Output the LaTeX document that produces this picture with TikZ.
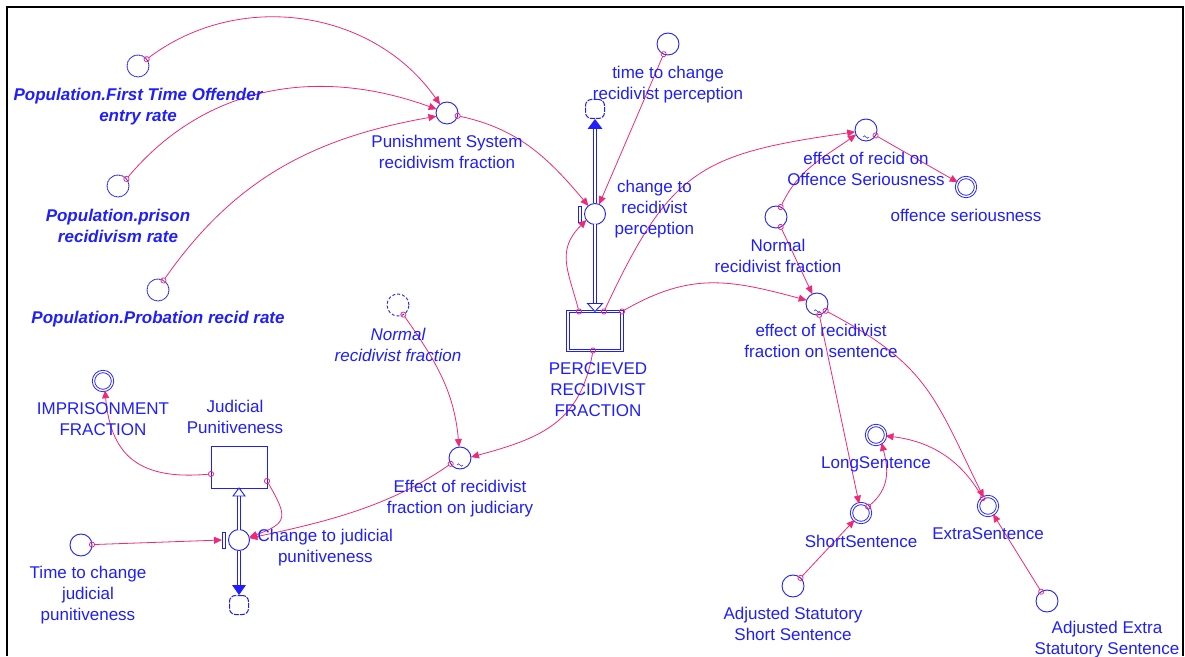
\documentclass[tikz,border=0pt]{standalone}
\usepackage{fontspec}
\setmainfont{Liberation Sans}
\usetikzlibrary{positioning,arrows.meta}
\definecolor{vblue}{RGB}{30,30,255}
\definecolor{vpink}{RGB}{240,40,120}
\newcommand{\lookupmark}[1]{\draw[vblue,line width=.5pt] ([shift={(-3pt,4pt)}]#1.south) sin ++(1.5,1.2) cos ++(1.5,-1.2) sin ++(1.5,-1.2) cos ++(1.5,1.2);}

\begin{document}
\begin{tikzpicture}[x=1pt,y=1pt,
    aux/.style={circle,draw=vblue,line width=.9pt,minimum size=22pt,inner sep=0pt,outer sep=0pt},
    shortcut/.style={aux,dash pattern=on 1.2pt off .5pt},
    ghost/.style={aux,dash pattern=on 3pt off 2pt},
    dbl/.style={aux,double,double distance=1.4pt,minimum size=19pt},
    valve/.style={aux,minimum size=21pt,fill=white},
    cloudnode/.style={draw=vblue,line width=1pt,rounded corners=6pt,minimum size=19pt,inner sep=0pt,dash pattern=on 5pt off 1.2pt},
    stock/.style={draw=vblue,line width=.9pt,minimum width=56pt,minimum height=42pt,inner sep=0pt,outer sep=0pt},
    pipe/.style={draw=vblue,line width=1pt,double,double distance=2.4pt},
    link/.style={draw=vpink,line width=.8pt,{Circle[open,length=6pt]}-{Triangle[length=8pt,width=7pt]},shorten <=-3pt},
    lbl/.style={text=vblue,align=center,inner sep=0pt,font=\fontsize{17}{21}\selectfont},
    blbl/.style={lbl,font=\fontsize{17}{21}\selectfont\bfseries\itshape},
    ilbl/.style={lbl,font=\fontsize{17}{21}\selectfont\itshape}]

    \useasboundingbox (0,0) rectangle (1185,656);
    \draw[line width=2.4pt] (7,0) -- (7,649) -- (1183,649) -- (1183,0);

    % shortcuts to the population model
    \node[shortcut] (popfirst) at (138,590) {};
    \node[shortcut] (popprison) at (118,470) {};
    \node[shortcut] (popprob) at (158,366) {};

    \node[aux] (punish) at (447,543) {};
    \node[aux] (timeR) at (668,612) {};
    \node[cloudnode] (cloudR) at (595,547) {};
    \node[valve] (valveR) at (595,442) {};
    \node[stock,double,double distance=1.4pt,minimum width=54pt,minimum height=39pt] (stockR) at (595,325) {};

    \node[aux] (effOff) at (866,526) {};
    \node[dbl] (offSer) at (966,469) {};
    \node[aux] (normR) at (776,439) {};
    \node[aux] (effSent) at (817,352) {};
    \node[dbl] (longS) at (876,221) {};
    \node[dbl] (shortS) at (861,143) {};
    \node[dbl] (extraS) at (988,150) {};
    \node[aux] (adjShort) at (793,70) {};
    \node[aux] (adjExtra) at (1047,55) {};

    \node[ghost] (normL) at (398,351) {};
    \node[aux] (effJud) at (460,198) {};
    \node[dbl] (imprison) at (103,275) {};
    \node[stock] (stockJ) at (239,189) {};
    \node[valve] (valveJ) at (239,116) {};
    \node[cloudnode] (cloudJ) at (239,51) {};
    \node[aux] (timeJ) at (81,111) {};

    \lookupmark{effOff}
    \lookupmark{effSent}
    \lookupmark{effJud}

    % flows
    \draw[pipe] (stockR.north) -- (valveR.south);
    \draw[pipe,shorten >=9pt] (valveR.north) -- (cloudR.south);
    \draw[vblue,line width=.9pt,fill=white] (stockR.north) -- ++(-7.5,8) -- ++(15,0) -- cycle;
    \fill[vblue] (cloudR.south) -- ++(-7.5,-10) -- ++(15,0) -- cycle;
    \draw[vblue,line width=.9pt,fill=white] ([shift={(-6.5pt,-8pt)}]valveR.west) rectangle ([shift={(-3pt,8pt)}]valveR.west);

    \draw[pipe] (valveJ.north) -- (stockJ.south);
    \draw[pipe,shorten >=9pt] (valveJ.south) -- (cloudJ.north);
    \draw[vblue,line width=.9pt,fill=white] (stockJ.south) -- ++(-6,-8) -- ++(12,0) -- cycle;
    \fill[vblue] (cloudJ.north) -- ++(-7,10) -- ++(14,0) -- cycle;
    \draw[vblue,line width=.9pt,fill=white] ([shift={(-6.5pt,-8pt)}]valveJ.west) rectangle ([shift={(-3pt,8pt)}]valveJ.west);

    % links
    \draw[link] (popfirst.38) to[out=37,in=125] (punish.129);
    \draw[link] (popprison.40) to[out=50,in=160] (punish.160);
    \draw[link] (popprob.60) to[out=55,in=190] (punish.197);
    \draw[link] (punish.-15) to[out=-12,in=130] (valveR.129);
    \draw[link] (timeR) -- (valveR);
    \draw[link] ([xshift=11pt]stockR.north west) to[out=105,in=225,looseness=1.2] (valveR.215);
    \draw[link] ([xshift=36pt]stockR.north west) to[out=65,in=188,looseness=1.3] (effOff.190);
    \draw[link] (stockR.north east) to[out=30,in=165,looseness=1.1] (effSent.160);
    \draw[link] ([xshift=-2pt]stockR.south) to[out=260,in=15,looseness=1.15] (effJud.5);
    \draw[link] (effOff) -- (offSer);
    \draw[link] (normR.65) to[out=65,in=215] (effOff.205);
    \draw[link] (normR) -- (effSent);
    \draw[link] (effSent) -- (shortS);
    \draw[link] (effSent.-38) to[out=-28,in=116,looseness=1.2] (extraS.117);
    \draw[link] (shortS.42) to[out=40,in=285,looseness=1.1] (longS.-55);
    \draw[link] (extraS.124) to[out=120,in=-7] (longS.-5);
    \draw[link] (adjShort) -- (shortS);
    \draw[link] (adjExtra) -- (extraS);
    \draw[link] (normL.-61) to[out=-55,in=95] (effJud.95);
    \draw[link] (effJud.212) to[out=215,in=12,looseness=.9] (valveJ.10);
    \draw[link] ([yshift=-7pt]stockJ.west) to[out=185,in=275,looseness=1.3] (imprison.-78);
    \draw[link] ([yshift=-14pt]stockJ.east) to[out=-60,in=20,looseness=1.8] (valveJ.15);
    \draw[link] (timeJ) -- ([xshift=-6.5pt]valveJ.west);

    % labels
    \node[blbl,below=22pt of popfirst.center] (popfirstL) {Population.First Time Offender\\entry rate};
    \node[blbl,below=23pt of popprison.center] (popprisonL) {Population.prison\\recidivism rate};
    \node[blbl,below=21pt of popprob.center] (popprobL) {Population.Probation recid rate};
    \node[lbl,below=22pt of punish.center] (punishL) {Punishment System\\recidivism fraction};
    \node[lbl,below=22pt of timeR.center] (timeRL) {time to change\\recidivist perception};
    \node[lbl,right=9pt of valveR,yshift=5pt] (valveRL) {change to\\recidivist\\perception};
    \node[lbl,below=12pt of stockR.south,xshift=3pt] (stockRL) {PERCIEVED\\RECIDIVIST\\FRACTION};
    \node[lbl,below=22pt of effOff.center] (effOffL) {effect of recid on\\Offence Seriousness};
    \node[lbl,below=22pt of offSer.center] (offSerL) {offence seriousness};
    \node[lbl,below=22pt of normR.center,xshift=2pt] (normRL) {Normal\\recidivist fraction};
    \node[lbl,below=20pt of effSent.center,xshift=4pt] (effSentL) {effect of recidivist\\fraction on sentence};
    \node[lbl,below=21pt of longS.center] (longSL) {LongSentence};
    \node[lbl,below=22pt of shortS.center] (shortSL) {ShortSentence};
    \node[lbl,below=21pt of extraS.center] (extraSL) {ExtraSentence};
    \node[lbl,below=21pt of adjShort.center] (adjShortL) {Adjusted Statutory\\Short Sentence};
    \node[lbl,below=20pt of adjExtra.center,xshift=60pt] (adjExtraL) {Adjusted Extra\\Statutory Sentence};
    \node[ilbl,below=23pt of normL.center] (normLL) {Normal\\recidivist fraction};
    \node[lbl,below=22pt of effJud.center] (effJudL) {Effect of recidivist\\fraction on judiciary};
    \node[lbl,below=21pt of imprison.center] (imprisonL) {IMPRISONMENT\\FRACTION};
    \node[lbl,above=12pt of stockJ.north,xshift=-4pt] (stockJL) {Judicial\\Punitiveness};
    \node[lbl,right=8pt of valveJ,yshift=-7.5pt] (valveJL) {Change to judicial\\punitiveness};
    \node[lbl,below=21pt of timeJ.center,xshift=7pt] (timeJL) {Time to change\\judicial\\punitiveness};
\end{tikzpicture}
\end{document}
